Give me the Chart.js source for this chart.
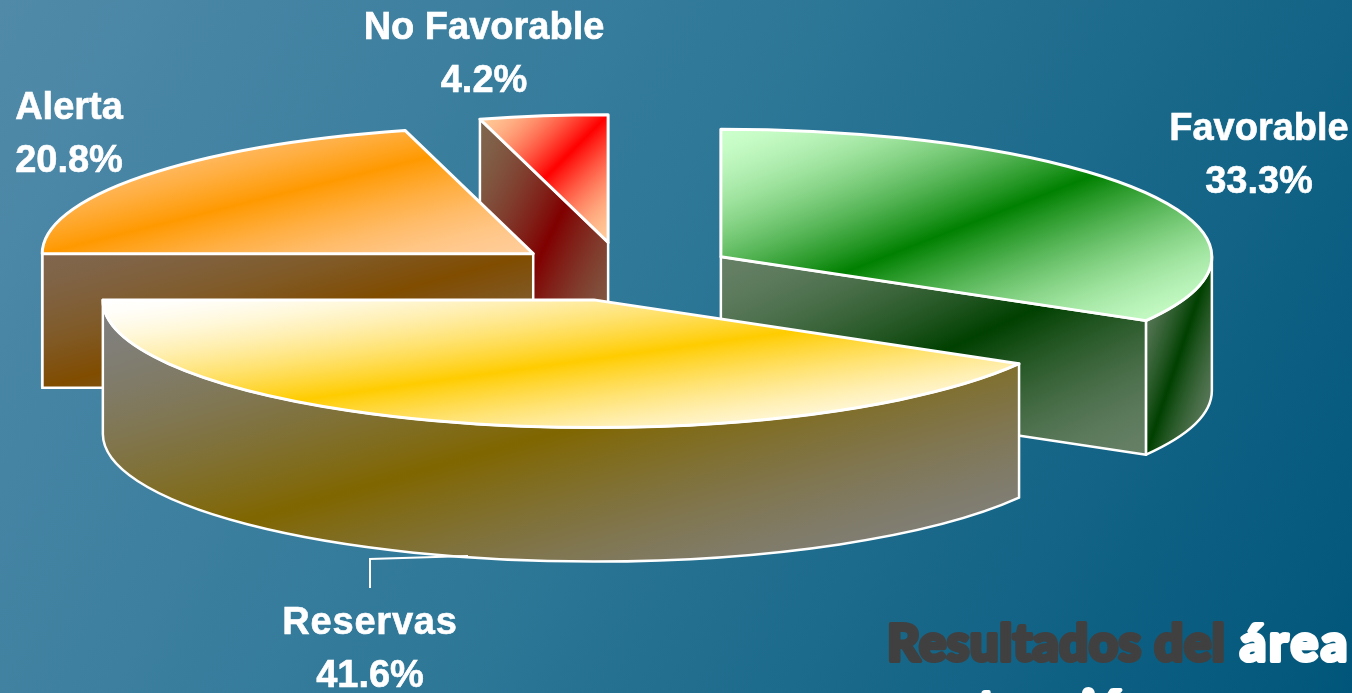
<!DOCTYPE html>
<html>
<head>
<meta charset="utf-8">
<style>
  html, body { margin: 0; padding: 0; width: 100%; height: 100%; overflow: hidden; }
  body { background: linear-gradient(118deg, #518aa9 0%, #2f7898 45%, #00567a 100%); }
  #box { width: 1352px; height: 693px; position: relative; }
</style>
<script src="https://cdn.jsdelivr.net/npm/chart.js@4/dist/chart.umd.min.js"></script>
</head>
<body>
<div id="box"><canvas id="myChart"></canvas></div>
<script>
const categories = ['Favorable', 'Reservas', 'Alerta', 'No Favorable'];
const shares = [33.3, 41.6, 20.8, 4.2];

// colours: corner colour and middle band colour of each slice
const lightColors = ['#ccffcc', '#ffffff', '#ffcc99', '#ffcc99'];
const bandColors = ['#008000', '#ffcc00', '#ff9900', '#ff0000'];

// label centres on the page
const labelX = [1259, 370, 69, 484];
const labelY = [130, 624, 109, 29];

const squash = 0.26;    // tilt of the pie
const depth = 134;      // height of the walls
const explode = 113;    // how far slices are pulled out
const drawOrder = [3, 2, 0, 1]; // back to front

function rgbOf(hex) {
    const n = parseInt(hex.slice(1), 16);
    return [n >> 16, (n >> 8) & 255, n & 255];
}

// f = 0 gives a, f = 1 gives b, the result is scaled by shade
function mix(a, b, f, shade) {
    const p = rgbOf(a), q = rgbOf(b);
    return 'rgb(' + p.map((v, k) => Math.round((v + (q[k] - v) * f) * shade)).join(',') + ')';
}

// light corner, band along the anti-diagonal of the box, light corner
function cornerGradient(ctx, box, light, band, shade) {
    const w = box.x1 - box.x0, h = box.y1 - box.y0;
    const len = Math.hypot(w, h) || 1;
    const nx = h / len, ny = w / len;
    const t = (w / 2) * nx + (h / 2) * ny;
    const cx = (box.x0 + box.x1) / 2, cy = (box.y0 + box.y1) / 2;
    const g = ctx.createLinearGradient(cx - nx * t, cy - ny * t, cx + nx * t, cy + ny * t);
    for (let s = 0; s <= 20; s++) {
        const pos = s / 20;
        g.addColorStop(pos, mix(light, band, Math.pow(1 - Math.abs(2 * pos - 1), 1.6), shade));
    }
    return g;
}

function boxOf(pts) {
    const xs = pts.map(p => p[0]), ys = pts.map(p => p[1]);
    return { x0: Math.min(...xs), y0: Math.min(...ys), x1: Math.max(...xs), y1: Math.max(...ys) };
}

function strokeWhite(ctx, w) {
    ctx.lineWidth = w;
    ctx.strokeStyle = '#ffffff';
    ctx.lineJoin = 'round';
    ctx.stroke();
}

function drawSlice(ctx, arc, i) {
    const a0 = arc.startAngle, a1 = arc.endAngle, mid = (a0 + a1) / 2;
    const R = arc.outerRadius;
    const sx = Math.cos(mid) * explode, sy = Math.sin(mid) * explode * squash;
    const ax = arc.x + sx, ay = arc.y + sy, ry = R * squash;
    const rim = a => [ax + Math.cos(a) * R, ay + Math.sin(a) * ry];
    const light = lightColors[i], band = bandColors[i];

    // flat walls along the cuts, only those that face the viewer
    [a0, a1].forEach(a => {
        const p = rim(a), m = rim(mid);
        if (Math.abs(p[0] - ax) < 1) return;
        const lineY = ay + (p[1] - ay) / (p[0] - ax) * (m[0] - ax);
        if (m[1] >= lineY) return;
        ctx.beginPath();
        ctx.moveTo(ax, ay);
        ctx.lineTo(p[0], p[1]);
        ctx.lineTo(p[0], p[1] + depth);
        ctx.lineTo(ax, ay + depth);
        ctx.closePath();
        ctx.fillStyle = cornerGradient(ctx, boxOf([[ax, ay], p, [p[0], p[1] + depth], [ax, ay + depth]]), light, band, 0.5);
        ctx.fill();
        strokeWhite(ctx, 2.5);
    });

    // curved wall, front half of the ellipse only
    const w0 = Math.max(a0, 0), w1 = Math.min(a1, Math.PI);
    if (w1 > w0) {
        const pts = [rim(w0), rim(w1)];
        for (let a = w0; a < w1; a += 0.02) pts.push(rim(a));
        pts.slice().forEach(p => pts.push([p[0], p[1] + depth]));
        ctx.beginPath();
        ctx.ellipse(ax, ay, R, ry, 0, w0, w1);
        ctx.ellipse(ax, ay + depth, R, ry, 0, w1, w0, true);
        ctx.closePath();
        ctx.fillStyle = cornerGradient(ctx, boxOf(pts), light, band, 0.5);
        ctx.fill();
        strokeWhite(ctx, 2.5);
    }

    // top face: the library's own arc, squashed
    const userPts = [[arc.x, arc.y]];
    for (let a = a0; a <= a1; a += 0.01) userPts.push([arc.x + Math.cos(a) * R, arc.y + Math.sin(a) * R]);
    userPts.push([arc.x + Math.cos(a1) * R, arc.y + Math.sin(a1) * R]);
    arc.options = Object.assign({}, arc.options, {
        backgroundColor: cornerGradient(ctx, boxOf(userPts), light, band, 1),
        borderWidth: 0
    });
    ctx.save();
    ctx.translate(sx, sy + arc.y);
    ctx.scale(1, squash);
    ctx.translate(0, -arc.y);
    arc.draw(ctx);
    ctx.restore();

    // outline in page space so the line keeps its width
    ctx.beginPath();
    ctx.moveTo(ax, ay);
    ctx.ellipse(ax, ay, R, ry, 0, a0, a1);
    ctx.closePath();
    strokeWhite(ctx, 3);
}

const pie3d = {
    id: 'pie3d',
    beforeDatasetsDraw(chart) {
        const ctx = chart.ctx;
        const arcs = chart.getDatasetMeta(0).data;
        ctx.save();
        drawOrder.forEach(i => drawSlice(ctx, arcs[i], i));
        ctx.restore();
        return false;
    },
    afterDraw(chart) {
        const ctx = chart.ctx;
        ctx.save();

        // leader of the Reservas label
        ctx.beginPath();
        ctx.moveTo(370, 588);
        ctx.lineTo(370, 559);
        ctx.lineTo(468, 556);
        ctx.lineWidth = 2;
        ctx.strokeStyle = '#ffffff';
        ctx.stroke();

        // slice labels
        ctx.fillStyle = ctx.strokeStyle = '#ffffff';
        ctx.lineWidth = 0.6;
        ctx.textAlign = 'center';
        ctx.textBaseline = 'middle';
        ctx.font = 'bold 38px "Liberation Sans"';
        categories.forEach((c, i) => {
            const pct = shares[i].toFixed(1) + '%';
            ctx.letterSpacing = c === 'Reservas' ? '0.8px' : '0px';
            ctx.fillText(c, labelX[i], labelY[i]);
            ctx.strokeText(c, labelX[i], labelY[i]);
            ctx.letterSpacing = '0px';
            ctx.fillText(pct, labelX[i], labelY[i] + 53);
            ctx.strokeText(pct, labelX[i], labelY[i] + 53);
        });

        // caption
        ctx.textAlign = 'left';
        ctx.textBaseline = 'alphabetic';
        ctx.font = '900 51px Lato';
        ctx.lineWidth = 4;
        ctx.lineJoin = 'round';
        ctx.letterSpacing = '0.5px';
        ctx.fillStyle = ctx.strokeStyle = '#404040';
        ctx.fillText('Resultados del', 887, 661);
        ctx.strokeText('Resultados del', 887, 661);
        ctx.fillStyle = ctx.strokeStyle = '#ffffff';
        ctx.letterSpacing = '3px';
        ctx.fillText('área', 1240, 661);
        ctx.strokeText('área', 1240, 661);
        ctx.letterSpacing = '1.2px';
        ctx.fillText('atención', 950, 727);
        ctx.strokeText('atención', 950, 727);
        ctx.restore();
    }
};

new Chart(document.getElementById('myChart').getContext('2d'), {
    type: 'pie',
    data: {
        labels: categories,
        datasets: [{
            data: shares,
            backgroundColor: bandColors,
            borderWidth: 0,
            radius: 491
        }]
    },
    options: {
        responsive: true,
        maintainAspectRatio: false,
        animation: false,
        layout: { padding: { right: 106, bottom: 150 } },
        plugins: { legend: { display: false }, tooltip: { enabled: false } }
    },
    plugins: [pie3d]
});
</script>
</body>
</html>
